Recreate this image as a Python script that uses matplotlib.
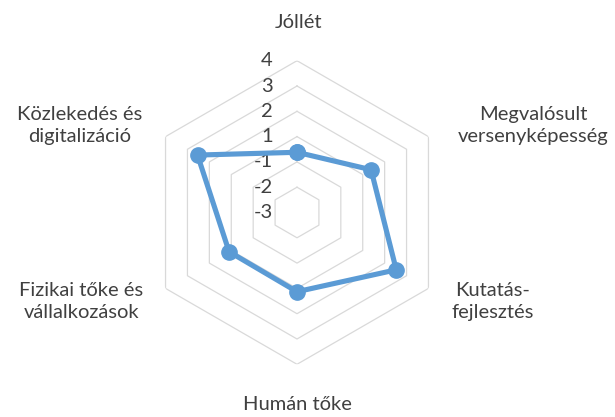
import numpy as np
import matplotlib
matplotlib.use("Agg")
import matplotlib.pyplot as plt

plt.rcParams['font.family'] = ['Lato', 'DejaVu Sans']

# Indicator names, clockwise from the top
categories = ['Jóllét', 'Megvalósult\nversenyképesség', 'Kutatás-\nfejlesztés',
              'Humán tőke', 'Fizikai tőke és\nvállalkozások', 'Közlekedés és\ndigitalizáció']
# Scores on the radial scale
values = [-0.62, 0.38, 1.53, 0.13, 0.10, 1.54]
# Radial scale: ring positions and the labels shown on them
r_ticks = [-3, -2, -1, 0, 1, 2, 3]
r_labels = ['-3', '-2', '-1', '1', '2', '3', '4']

blue = '#5B9BD5'
grid_col = '#D9D9D9'
text_col = '#404040'

W, H = 615, 417
fig = plt.figure(figsize=(W / 100, H / 100), dpi=100)
cx, cy, R = 297, 212.5, 151.8
ax = fig.add_axes([(cx - R) / W, (H - cy - R) / H, 2 * R / W, 2 * R / H], projection='polar')
ax.set_theta_zero_location('N')
ax.set_theta_direction(-1)
ax.set_ylim(r_ticks[0], r_ticks[-1])
ax.grid(False)
ax.spines['polar'].set_visible(False)
ax.set_xticks([])
ax.set_yticks([])
ax.patch.set_alpha(0)

n = len(categories)
angles = np.linspace(0, 2 * np.pi, n, endpoint=False)
closed = np.append(angles, angles[0])

# hexagonal grid rings
for r in r_ticks[1:]:
    ax.plot(closed, [r] * (n + 1), color=grid_col, lw=0.9, zorder=1)

# radial scale labels, left of the top spoke
for r, lab in zip(r_ticks, r_labels):
    ax.annotate(lab, xy=(0, r), xytext=(-24, 0), textcoords='offset pixels',
                ha='right', va='center', fontsize=14.5, color=text_col,
                annotation_clip=False)

# data polygon
vals = np.append(values, values[0])
ax.plot(closed, vals, color=blue, lw=3.7, marker='o', markersize=11,
        solid_joinstyle='round', zorder=3, clip_on=False)

# category labels placed around the outer ring
offsets = [(1, 38), (105, 11), (64, -13), (0, -40), (-84, -13), (-86, 11)]
for ang, lab, (dx, dy) in zip(angles, categories, offsets):
    ax.annotate(lab, xy=(ang, r_ticks[-1]), xytext=(dx, dy), textcoords='offset pixels',
                ha='center', va='center', fontsize=14.5, color=text_col,
                linespacing=1.35, annotation_clip=False)

fig.savefig('out.png', dpi=100)
